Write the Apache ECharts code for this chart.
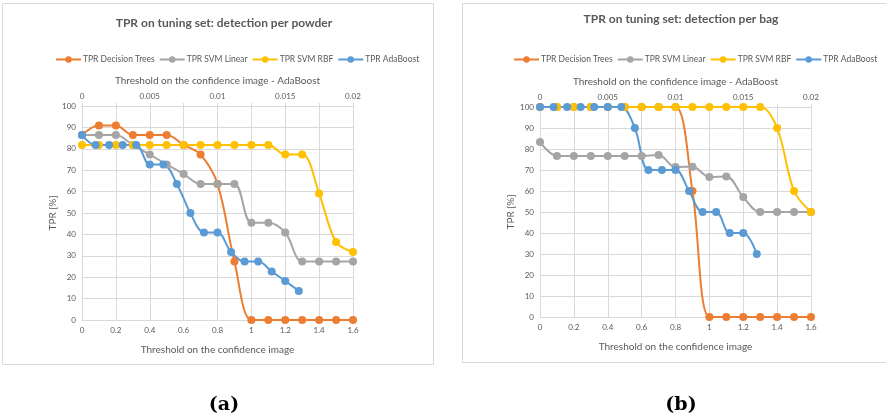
<!DOCTYPE html>
<html>
<head>
<meta charset="utf-8">
<script src="https://cdn.jsdelivr.net/npm/echarts@6/dist/echarts.min.js"></script>
<style>
html,body{margin:0;padding:0;background:#fff;}
#chart{width:886px;height:419px;}
</style>
</head>
<body>
<div id="chart"></div>
<script>
// ---- Data ----
var thresholds = [0, 0.1, 0.2, 0.3, 0.4, 0.5, 0.6, 0.7, 0.8, 0.9, 1.0, 1.1, 1.2, 1.3, 1.4, 1.5, 1.6];
var adaThresholds = [0, 0.001, 0.002, 0.003, 0.004, 0.005, 0.006, 0.007, 0.008, 0.009, 0.010, 0.011, 0.012, 0.013, 0.014, 0.015, 0.016];
var seriesNames = ['TPR Decision Trees', 'TPR SVM Linear', 'TPR SVM RBF', 'TPR AdaBoost'];

// (a) detection per powder
var powderDT     = [86.4, 90.9, 90.9, 86.4, 86.4, 86.4, 81.8, 77.3, 63.6, 27.3, 0, 0, 0, 0, 0, 0, 0];
var powderLinear = [86.4, 86.4, 86.4, 81.8, 77.3, 72.7, 68.2, 63.6, 63.6, 63.6, 45.5, 45.5, 40.9, 27.3, 27.3, 27.3, 27.3];
var powderRBF    = [81.8, 81.8, 81.8, 81.8, 81.8, 81.8, 81.8, 81.8, 81.8, 81.8, 81.8, 81.8, 77.3, 77.3, 59.1, 36.4, 31.8];
var powderAda    = [86.4, 81.8, 81.8, 81.8, 81.8, 72.7, 72.7, 63.6, 50.0, 40.9, 40.9, 31.8, 27.3, 27.3, 22.7, 18.2, 13.6];

// (b) detection per bag
var bagDT     = [100, 100, 100, 100, 100, 100, 100, 100, 100, 60, 0, 0, 0, 0, 0, 0, 0];
var bagLinear = [83.3, 76.7, 76.7, 76.7, 76.7, 76.7, 76.7, 77.1, 71.4, 71.6, 66.7, 66.9, 57.1, 50, 50, 50, 50];
var bagRBF    = [100, 100, 100, 100, 100, 100, 100, 100, 100, 100, 100, 100, 100, 100, 90, 60, 50];
var bagAda    = [100, 100, 100, 100, 100, 100, 100, 90, 70, 70, 70, 60, 50, 50, 40, 40, 30];

var bottomTicks = [0, 0.2, 0.4, 0.6, 0.8, 1, 1.2, 1.4, 1.6];
var topTickLabels = ['0', '0.005', '0.01', '0.015', '0.02'];

var titles = ['TPR on tuning set: detection per powder', 'TPR on tuning set: detection per bag'];
var panelLabels = ['(a)', '(b)'];
var xName = 'Threshold on the confidence image';
var xTopName = 'Threshold on the confidence image - AdaBoost';
var yName = 'TPR [%]';

// ---- Styling ----
var colors = ['#ED7D31', '#A5A5A5', '#FFC000', '#5B9BD5'];
var txt = '#595959';
var gridCol = '#d9d9d9';
var FONT = 'Lato, "Open Sans", sans-serif';

function pairs(xs, ys) { return xs.map(function (x, i) { return [x, ys[i]]; }); }

var grids = [
  {left: 82, top: 106, width: 271, height: 214},
  {left: 540, top: 107, width: 271, height: 210}
];

function bottomAxis(gi) {
  return {
    type: 'value', gridIndex: gi, position: 'bottom', min: 0, max: 1.6, interval: 0.2,
    name: xName, nameLocation: 'middle', nameGap: 25,
    nameTextStyle: {color: txt, fontSize: 10, fontFamily: FONT},
    axisLine: {show: true, lineStyle: {color: gridCol}},
    axisTick: {show: false},
    axisLabel: {color: txt, fontSize: 8, fontFamily: FONT, margin: 6,
      formatter: function (v) { var r = Math.round(v * 10) / 10; return bottomTicks.indexOf(r) >= 0 ? String(r) : ''; }},
    splitLine: {show: true, lineStyle: {color: gridCol}}
  };
}
function topAxis(gi) {
  return {
    type: 'value', gridIndex: gi, position: 'top', min: 0, max: 0.02, interval: 0.0025,
    name: xTopName, nameLocation: 'middle', nameGap: 20,
    nameTextStyle: {color: txt, fontSize: 10, fontFamily: FONT},
    axisLine: {show: true, lineStyle: {color: gridCol}},
    axisTick: {show: true, length: 3, inside: false, lineStyle: {color: gridCol}},
    axisLabel: {color: txt, fontSize: 8, fontFamily: FONT, margin: 6,
      formatter: function (v) {
        var k = Math.round(v / 0.0025);
        return (k % 2 === 0) ? topTickLabels[k / 2] : '';
      }},
    splitLine: {show: false}
  };
}
function leftAxis(gi, gap) {
  return {
    type: 'value', gridIndex: gi, min: 0, max: 100, interval: 10,
    name: yName, nameLocation: 'middle', nameGap: gap, nameRotate: 90,
    nameTextStyle: {color: txt, fontSize: 10, fontFamily: FONT},
    axisLine: {show: true, lineStyle: {color: gridCol}},
    axisTick: {show: false},
    axisLabel: {color: txt, fontSize: 8, fontFamily: FONT, margin: 6},
    splitLine: {show: true, lineStyle: {color: gridCol}}
  };
}

function mkSeries(name, ci, xi, yi, data) {
  return {
    name: name, type: 'line', xAxisIndex: xi, yAxisIndex: yi,
    data: data, smooth: 0.35, symbol: 'circle', symbolSize: 8,
    lineStyle: {width: 2, color: colors[ci]}, itemStyle: {color: colors[ci]},
    emphasis: {disabled: true}, animation: false
  };
}

var series = [
  mkSeries(seriesNames[0], 0, 0, 0, pairs(thresholds, powderDT)),
  mkSeries(seriesNames[1], 1, 0, 0, pairs(thresholds, powderLinear)),
  mkSeries(seriesNames[2], 2, 0, 0, pairs(thresholds, powderRBF)),
  mkSeries(seriesNames[3], 3, 1, 0, pairs(adaThresholds, powderAda)),
  mkSeries(seriesNames[0], 0, 2, 1, pairs(thresholds, bagDT)),
  mkSeries(seriesNames[1], 1, 2, 1, pairs(thresholds, bagLinear)),
  mkSeries(seriesNames[2], 2, 2, 1, pairs(thresholds, bagRBF)),
  mkSeries(seriesNames[3], 3, 3, 1, pairs(adaThresholds, bagAda))
];

function mkLegend(left) {
  return {
    left: left, top: 55, orient: 'horizontal', padding: 0, width: 420,
    itemWidth: 25, itemHeight: 8, itemGap: 4,
    textStyle: {color: txt, fontSize: 8.5, fontFamily: FONT, padding: [0, 0, 0, -3]},
    selectedMode: false,
    data: seriesNames.slice()
  };
}

var option = {
  animation: false,
  backgroundColor: '#fff',
  color: colors,
  title: [
    {text: titles[0], left: 219, top: 12, textAlign: 'center',
      textStyle: {color: txt, fontSize: 12, fontWeight: 'bold', fontFamily: FONT}},
    {text: titles[1], left: 676, top: 8, textAlign: 'center',
      textStyle: {color: txt, fontSize: 12, fontWeight: 'bold', fontFamily: FONT}},
    {text: panelLabels[0], left: 219, top: 391, textAlign: 'center',
      textStyle: {color: '#000', fontSize: 19, fontWeight: 'bold', fontFamily: '"DejaVu Serif", serif'}},
    {text: panelLabels[1], left: 676, top: 391, textAlign: 'center',
      textStyle: {color: '#000', fontSize: 19, fontWeight: 'bold', fontFamily: '"DejaVu Serif", serif'}}
  ],
  legend: [mkLegend(55), mkLegend(513)],
  grid: grids,
  xAxis: [bottomAxis(0), topAxis(0), bottomAxis(1), topAxis(1)],
  yAxis: [leftAxis(0, 22), leftAxis(1, 20)],
  series: series,
  graphic: [
    {type: 'rect', shape: {x: 2.5, y: 3.5, width: 431, height: 361}, style: {fill: 'none', stroke: '#d9d9d9', lineWidth: 1}, z: -10},
    {type: 'rect', shape: {x: 462.5, y: 3.5, width: 430, height: 359}, style: {fill: 'none', stroke: '#d9d9d9', lineWidth: 1}, z: -10}
  ]
};

var chart = echarts.init(document.getElementById('chart'), null, {renderer: 'canvas'});
chart.setOption(option);
</script>
</body>
</html>
